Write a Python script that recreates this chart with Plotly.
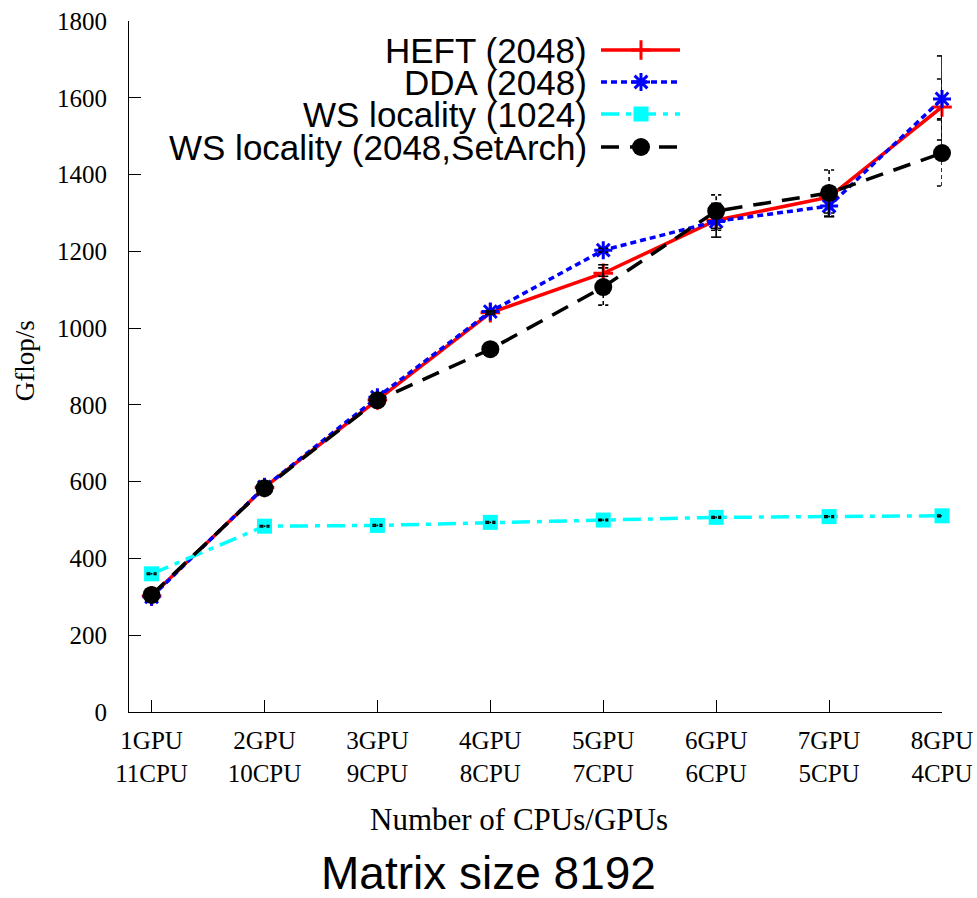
import plotly.graph_objects as go

# ---- data -------------------------------------------------------------
config_pos = [1, 2, 3, 4, 5, 6, 7, 8]
config_labels = ["1GPU<br>11CPU", "2GPU<br>10CPU", "3GPU<br>9CPU", "4GPU<br>8CPU",
                 "5GPU<br>7CPU", "6GPU<br>6CPU", "7GPU<br>5CPU", "8GPU<br>4CPU"]
y_ticks = [0, 200, 400, 600, 800, 1000, 1200, 1400, 1600, 1800]

heft = [302, 585, 813, 1040, 1143, 1281, 1341, 1576]
heft_lo = [300, 582, 810, 1036, 1135, 1237, 1290, 1490]
heft_hi = [305, 588, 816, 1044, 1165, 1325, 1365, 1709]

dda = [300, 586, 820, 1043, 1203, 1278, 1318, 1597]
dda_lo = [298, 583, 817, 1040, 1198, 1255, 1300, 1545]
dda_hi = [302, 589, 823, 1046, 1208, 1300, 1340, 1649]

ws1024 = [360, 484, 486, 494, 500, 507, 509, 511]
ws1024_lo = [358, 482, 484, 492, 498, 505, 507, 509]
ws1024_hi = [362, 486, 488, 496, 502, 509, 511, 513]

setarch = [305, 583, 812, 945, 1107, 1305, 1352, 1456]
setarch_lo = [302, 580, 808, 940, 1060, 1260, 1292, 1370]
setarch_hi = [308, 586, 816, 950, 1157, 1347, 1412, 1542]

series = [
    dict(name="HEFT (2048)", y=heft, lo=heft_lo, hi=heft_hi, color="#ff0000",
         dash="solid", symbol="cross-thin-open", msize=14, mline=3),
    dict(name="DDA (2048)", y=dda, lo=dda_lo, hi=dda_hi, color="#0000ff",
         dash="6px,4px", symbol="asterisk-open", msize=15, mline=3),
    dict(name="WS locality (1024)", y=ws1024, lo=ws1024_lo, hi=ws1024_hi, color="#00ffff",
         dash="18px,7px,5px,7px", symbol="square", msize=15, mline=0),
    dict(name="WS locality (2048,SetArch)", y=setarch, lo=setarch_lo, hi=setarch_hi,
         color="#000000", dash="18px,11px", symbol="circle", msize=18, mline=0),
]

SERIF = "Liberation Serif"
SANS = "Liberation Sans"
CAP = 0.045  # half width of error-bar caps, in x units

fig = go.Figure()

for s in series:
    mk = dict(symbol=s["symbol"], size=s["msize"], color=s["color"])
    if s["mline"]:
        mk["line"] = dict(color=s["color"], width=s["mline"])
    fig.add_trace(go.Scatter(
        x=config_pos, y=s["y"], mode="lines+markers",
        line=dict(color=s["color"], width=3.5, dash=s["dash"]),
        marker=mk, cliponaxis=False, showlegend=False, hoverinfo="skip"))

# error bars in black, each with its series' line pattern
for s in series:
    ex, ey = [], []
    for xv, lo, hi in zip(config_pos, s["lo"], s["hi"]):
        ex += [xv, xv, None, xv - CAP, xv + CAP, None, xv - CAP, xv + CAP, None]
        ey += [lo, hi, None, lo, lo, None, hi, hi, None]
    fig.add_trace(go.Scatter(
        x=ex, y=ey, mode="lines",
        line=dict(color="black", width=1.6,
                  dash="solid" if s["dash"] == "solid" else "4px,3px"),
        cliponaxis=False, showlegend=False, hoverinfo="skip"))

# key: text right-aligned, sample line + symbol to its right (pixel-like overlay axes)
key_rows = [50, 82, 114, 147]
for s, ry in zip(series, key_rows):
    mk = dict(symbol=s["symbol"], size=s["msize"], color=s["color"])
    if s["mline"]:
        mk["line"] = dict(color=s["color"], width=s["mline"])
    fig.add_trace(go.Scatter(
        x=[601, 680], y=[ry, ry], mode="lines", xaxis="x2", yaxis="y2",
        line=dict(color=s["color"], width=3.5, dash=s["dash"]),
        cliponaxis=False, showlegend=False, hoverinfo="skip"))
    fig.add_trace(go.Scatter(
        x=[641], y=[ry], mode="markers", xaxis="x2", yaxis="y2", marker=mk,
        cliponaxis=False, showlegend=False, hoverinfo="skip"))
    fig.add_annotation(x=588, y=ry, xref="x2", yref="y2", text=s["name"],
                       showarrow=False, xanchor="right", yanchor="middle",
                       borderpad=0,
                       font=dict(family=SANS, size=35, color="black"))

fig.add_annotation(x=-0.128, y=0.509, xref="paper", yref="paper", text="Gflop/s",
                   textangle=-90, showarrow=False, xanchor="center", yanchor="middle",
                   font=dict(family=SERIF, size=27, color="black"))
fig.add_annotation(x=0.4797, y=-0.156, xref="paper", yref="paper",
                   text="Number of CPUs/GPUs", showarrow=False,
                   xanchor="center", yanchor="middle",
                   font=dict(family=SERIF, size=31, color="black"))
fig.add_annotation(x=0.4416, y=-0.233, xref="paper", yref="paper",
                   text="Matrix size 8192", showarrow=False,
                   xanchor="center", yanchor="middle",
                   font=dict(family=SANS, size=46, color="black"))

fig.update_layout(
    width=977, height=898,
    margin=dict(l=129, r=35, t=21, b=186, autoexpand=False),
    paper_bgcolor="white", plot_bgcolor="white",
    showlegend=False,
    xaxis=dict(range=[0.8, 8], tickvals=config_pos, ticktext=config_labels,
               automargin=False,
               showgrid=False, zeroline=False, showline=True, linecolor="black",
               linewidth=1, ticks="inside", ticklen=12, tickcolor="black",
               tickfont=dict(family=SERIF, size=25, color="black"),
               ticklabelstandoff=6),
    yaxis=dict(range=[0, 1800], tickvals=y_ticks, automargin=False,
               showgrid=False, zeroline=False, showline=True, linecolor="black",
               linewidth=1, ticks="inside", ticklen=12, tickcolor="black",
               tickfont=dict(family=SERIF, size=25, color="black"),
               ticklabelstandoff=16),
    xaxis2=dict(domain=[0, 1], range=[129, 942], visible=False, anchor="y2",
                overlaying="x"),
    yaxis2=dict(domain=[0, 1], range=[712, 21], visible=False, anchor="x2",
                overlaying="y"),
)

fig.write_html("out.html")
